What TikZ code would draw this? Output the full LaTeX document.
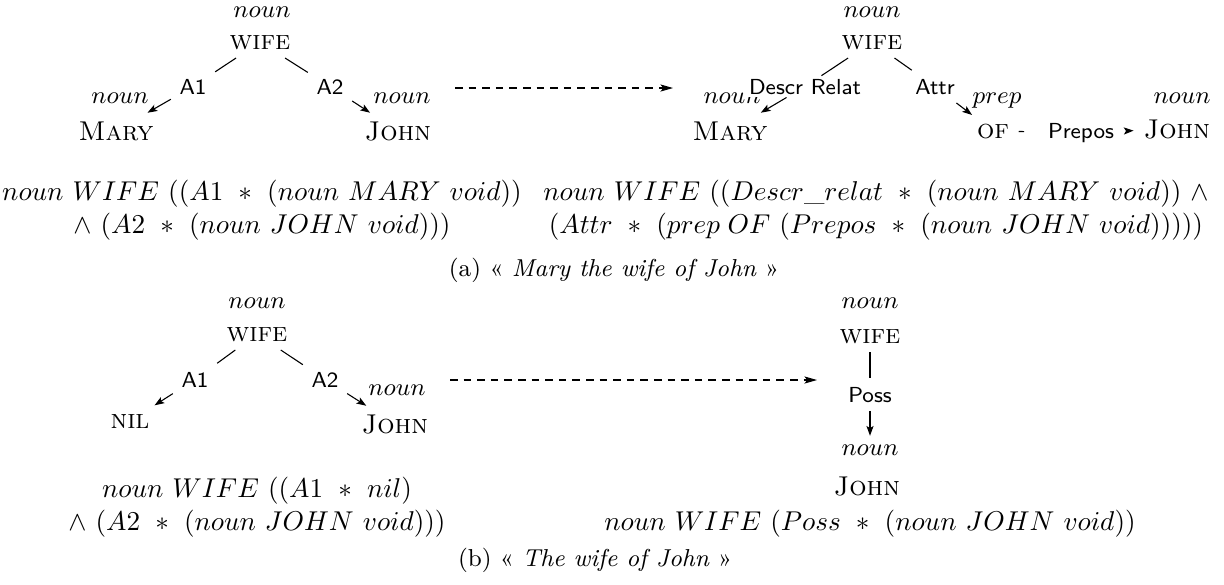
\documentclass[tikz,border=0pt]{standalone}
\usepackage{fontspec}
\usetikzlibrary{arrows.meta}
\begin{document}
\begin{tikzpicture}[x=0.3676pt,y=-0.3676pt,
  txt/.style={anchor=base, inner sep=3pt},
  cat/.style={txt, font=\small},
  word/.style={txt, font=\normalsize},
  rel/.style={txt, font=\footnotesize\sffamily},
  tedge/.style={line width=0.4pt},
  tarrow/.style={line width=0.4pt, -{Stealth[length=3.6pt,width=2.6pt,inset=0.8pt]}},
  transf/.style={line width=0.4pt, dash pattern=on 2.8pt off 2.2pt, -{Stealth[length=4.6pt,width=2.6pt,inset=1pt]}},
  formula/.style={anchor=base, inner sep=0pt},
  capt/.style={font=\small, anchor=base, inner sep=0pt}]
\useasboundingbox (0,0) rectangle (1224,584);

% ---------- (a) left tree
\node[cat] (aln) at (262,17) {$noun$};
\node[word] (alw) at (260,49) {\textsc{wife}};
\node[rel] (ala1) at (193,94) {A1};
\node[rel] (ala2) at (330,94) {A2};
\node[cat] (alnm) at (120,103) {$noun$};
\node[word] (alm) at (116,140) {\textsc{Mary}};
\node[cat] (alnj) at (402,103) {$noun$};
\node[word] (alj) at (398,140) {\textsc{John}};
\draw[tedge] (alw) -- (ala1);
\draw[tarrow] (ala1) -- (alm);
\draw[tedge] (alw) -- (ala2);
\draw[tarrow] (ala2) -- (alj);

% transformation arrow (a)
\coordinate (ats) at (455,88);
\coordinate (ate) at (673,88);
\draw[transf] (ats) -- (ate);

% ---------- (a) right tree
\node[cat] (arn) at (872,17) {$noun$};
\node[word] (arw) at (872,49) {\textsc{wife}};
\node[cat] (arnm) at (732,103) {$noun$};
\node[word] (arm) at (730,140) {\textsc{Mary}};
\node[rel, fill=white, inner sep=1pt] (ardr) at (805,94) {Descr Relat};
\node[rel] (arat) at (935,94) {Attr};
\node[cat] (arnp) at (997,103) {$prep$};
\node[word] (arof) at (993,138) {\textsc{of}};
\node[rel] (arpr) at (1081,138) {Prepos};
\node[cat] (arnj) at (1182,103) {$noun$};
\node[word] (arj) at (1177,138) {\textsc{John}};
\draw[tedge] (arw) -- (ardr);
\draw[tarrow] (ardr) -- (arm);
\draw[tedge] (arw) -- (arat);
\draw[tarrow] (arat) -- (arof);
\draw[tedge, shorten <=0.4pt, shorten >=5.6pt] (arof) -- (arpr);
\draw[tarrow, shorten <=1.4pt, shorten >=0.6pt] (arpr) -- (arj);

% formulas (a)
\node[formula] (alf1) at (262,200) {$noun\ WIFE\ ((A1\ *\ (noun\ MARY\ void))$};
\node[formula] (alf2) at (262,233) {$\wedge\ (A2\ *\ (noun\ JOHN\ void)))$};
\node[formula] (arf1) at (876,200) {$noun\ WIFE\ ((Descr\_relat\ *\ (noun\ MARY\ void))\ \wedge$};
\node[formula] (arf2) at (876,233) {$(Attr\ *\ (prep\;OF\ (Prepos\ *\ (noun\ JOHN\ void)))))$};
\node[capt] (capa) at (614,276) {(a) « \textit{Mary the wife of John} »};

% ---------- (b) left tree
\node[cat] (bln) at (257,308) {$noun$};
\node[word] (blw) at (257,341) {\textsc{wife}};
\node[rel] (bla1) at (195,387) {A1};
\node[rel] (bla2) at (325,387) {A2};
\node[word] (blnil) at (130,428) {\textsc{nil}};
\node[cat] (blnj) at (397,395) {$noun$};
\node[word] (blj) at (395,433) {\textsc{John}};
\draw[tedge] (blw) -- (bla1);
\draw[tarrow] (bla1) -- (blnil);
\draw[tedge] (blw) -- (bla2);
\draw[tarrow] (bla2) -- (blj);

% transformation arrow (b)
\coordinate (bts) at (450,380);
\coordinate (bte) at (817,380);
\draw[transf] (bts) -- (bte);

% ---------- (b) right tree
\node[cat] (brn) at (870,308) {$noun$};
\node[word] (brw) at (870,343) {\textsc{wife}};
\node[rel] (brp) at (870,402) {Poss};
\node[cat] (brnj) at (870,455) {$noun$};
\node[word] (brj) at (867,495) {\textsc{John}};
\draw[tedge] (brw) -- (brp);
\draw[tarrow] (brp) -- (brnj);

% formulas (b)
\node[formula] (blf1) at (257,497) {$noun\ WIFE\ ((A1\ *\ nil)$};
\node[formula] (blf2) at (257,530) {$\wedge\ (A2\ *\ (noun\ JOHN\ void)))$};
\node[formula] (brf) at (870,530) {$noun\ WIFE\ (Poss\ *\ (noun\ JOHN\ void))$};
\node[capt] (capb) at (595,566) {(b) « \textit{The wife of John} »};
\end{tikzpicture}
\end{document}
